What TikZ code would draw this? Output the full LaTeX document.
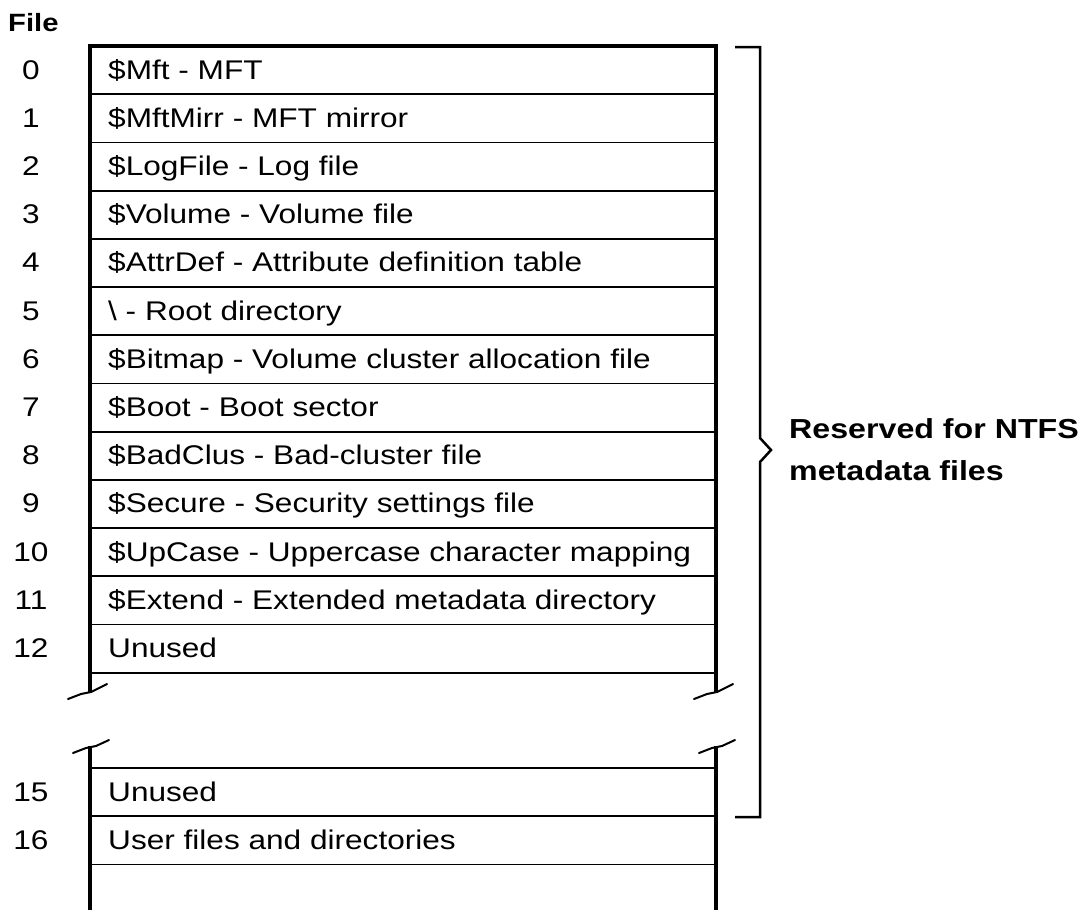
\documentclass[tikz,border=0pt]{standalone}
\usepackage{fontspec}
\setmainfont{Liberation Sans}
\newfontfamily\rowfont[FakeStretch=1.17]{Liberation Sans}
\newfontfamily\labfont[FakeStretch=1.17]{Liberation Sans}
\begin{document}
\begin{tikzpicture}[x=1pt,y=-1pt,
  rowtext/.style={anchor=base west,inner sep=0pt,font=\rowfont\fontsize{27}{30}\selectfont},
  numtext/.style={anchor=base,inner sep=0pt,font=\rowfont\fontsize{27}{30}\selectfont},
  labtext/.style={anchor=base west,inner sep=0pt,font=\labfont\bfseries\fontsize{27.5}{30}\selectfont},
  sep/.style={line width=1.8pt},
  side/.style={line width=3.5pt},
  bracestyle/.style={line width=2.5pt},
  tick/.style={line width=2pt,line cap=round}]
\useasboundingbox (0,0) rectangle (1083,910);
\def\L{90}\def\R{716}
% title
\node[labtext,font=\labfont\bfseries\fontsize{25}{28}\selectfont] (title) at (8,31) {File};
% rows 0..12
\foreach \i/\t in {0/{\$Mft - MFT},1/{\$MftMirr - MFT mirror},2/{\$LogFile - Log file},
  3/{\$Volume - Volume file},4/{\$AttrDef - Attribute definition table},
  5/{\textbackslash\ - Root directory},6/{\$Bitmap - Volume cluster allocation file},
  7/{\$Boot - Boot sector},8/{\$BadClus - Bad-cluster file},
  9/{\$Secure - Security settings file},10/{\$UpCase - Uppercase character mapping},
  11/{\$Extend - Extended metadata directory},12/{Unused}}{
  \pgfmathsetmacro{\top}{46+48.2*\i}
  \node[rowtext] (r\i) at (108,\top+33) {\t};
  \node[numtext] (n\i) at (31,\top+33) {\i};
  \draw[sep] (\L,\top+48.2) -- (\R,\top+48.2);
}
\node[rowtext] (r15) at (108,801) {Unused};
\node[numtext] (n15) at (31,801) {15};
\node[rowtext] (r16) at (108,849.2) {User files and directories};
\node[numtext] (n16) at (31,849.2) {16};
\draw[sep] (\L,768) -- (\R,768);
\draw[sep] (\L,816.2) -- (\R,816.2);
\draw[sep] (\L,864.4) -- (\R,864.4);
% top border
\draw[side] (\L-1.75,46) -- (\R+1.75,46);
% sides
\draw[side] (\L,46) -- (\L,692);
\draw[side] (\R,46) -- (\R,692);
\draw[side] (\L,746) -- (\L,910);
\draw[side] (\R,746) -- (\R,910);
% break ticks
\foreach \x in {\L,\R}{
  \draw[tick] (\x-22,699) -- (\x-9,694) -- (\x+1,692) -- (\x+17,684);
  \draw[tick] (\x-17,753) -- (\x-4,748) -- (\x+6,746) -- (\x+19,740);
}
% brace
\coordinate (bt) at (735,47);
\coordinate (bb) at (735,817);
\draw[bracestyle] (bt) -- (760,47) -- (760,438) -- (771,450) -- (760,462) -- (760,817) -- (bb);
\node[labtext] (lab1) at (789,438) {Reserved for NTFS};
\node[labtext] (lab2) at (789,480) {metadata files};
\end{tikzpicture}
\end{document}
